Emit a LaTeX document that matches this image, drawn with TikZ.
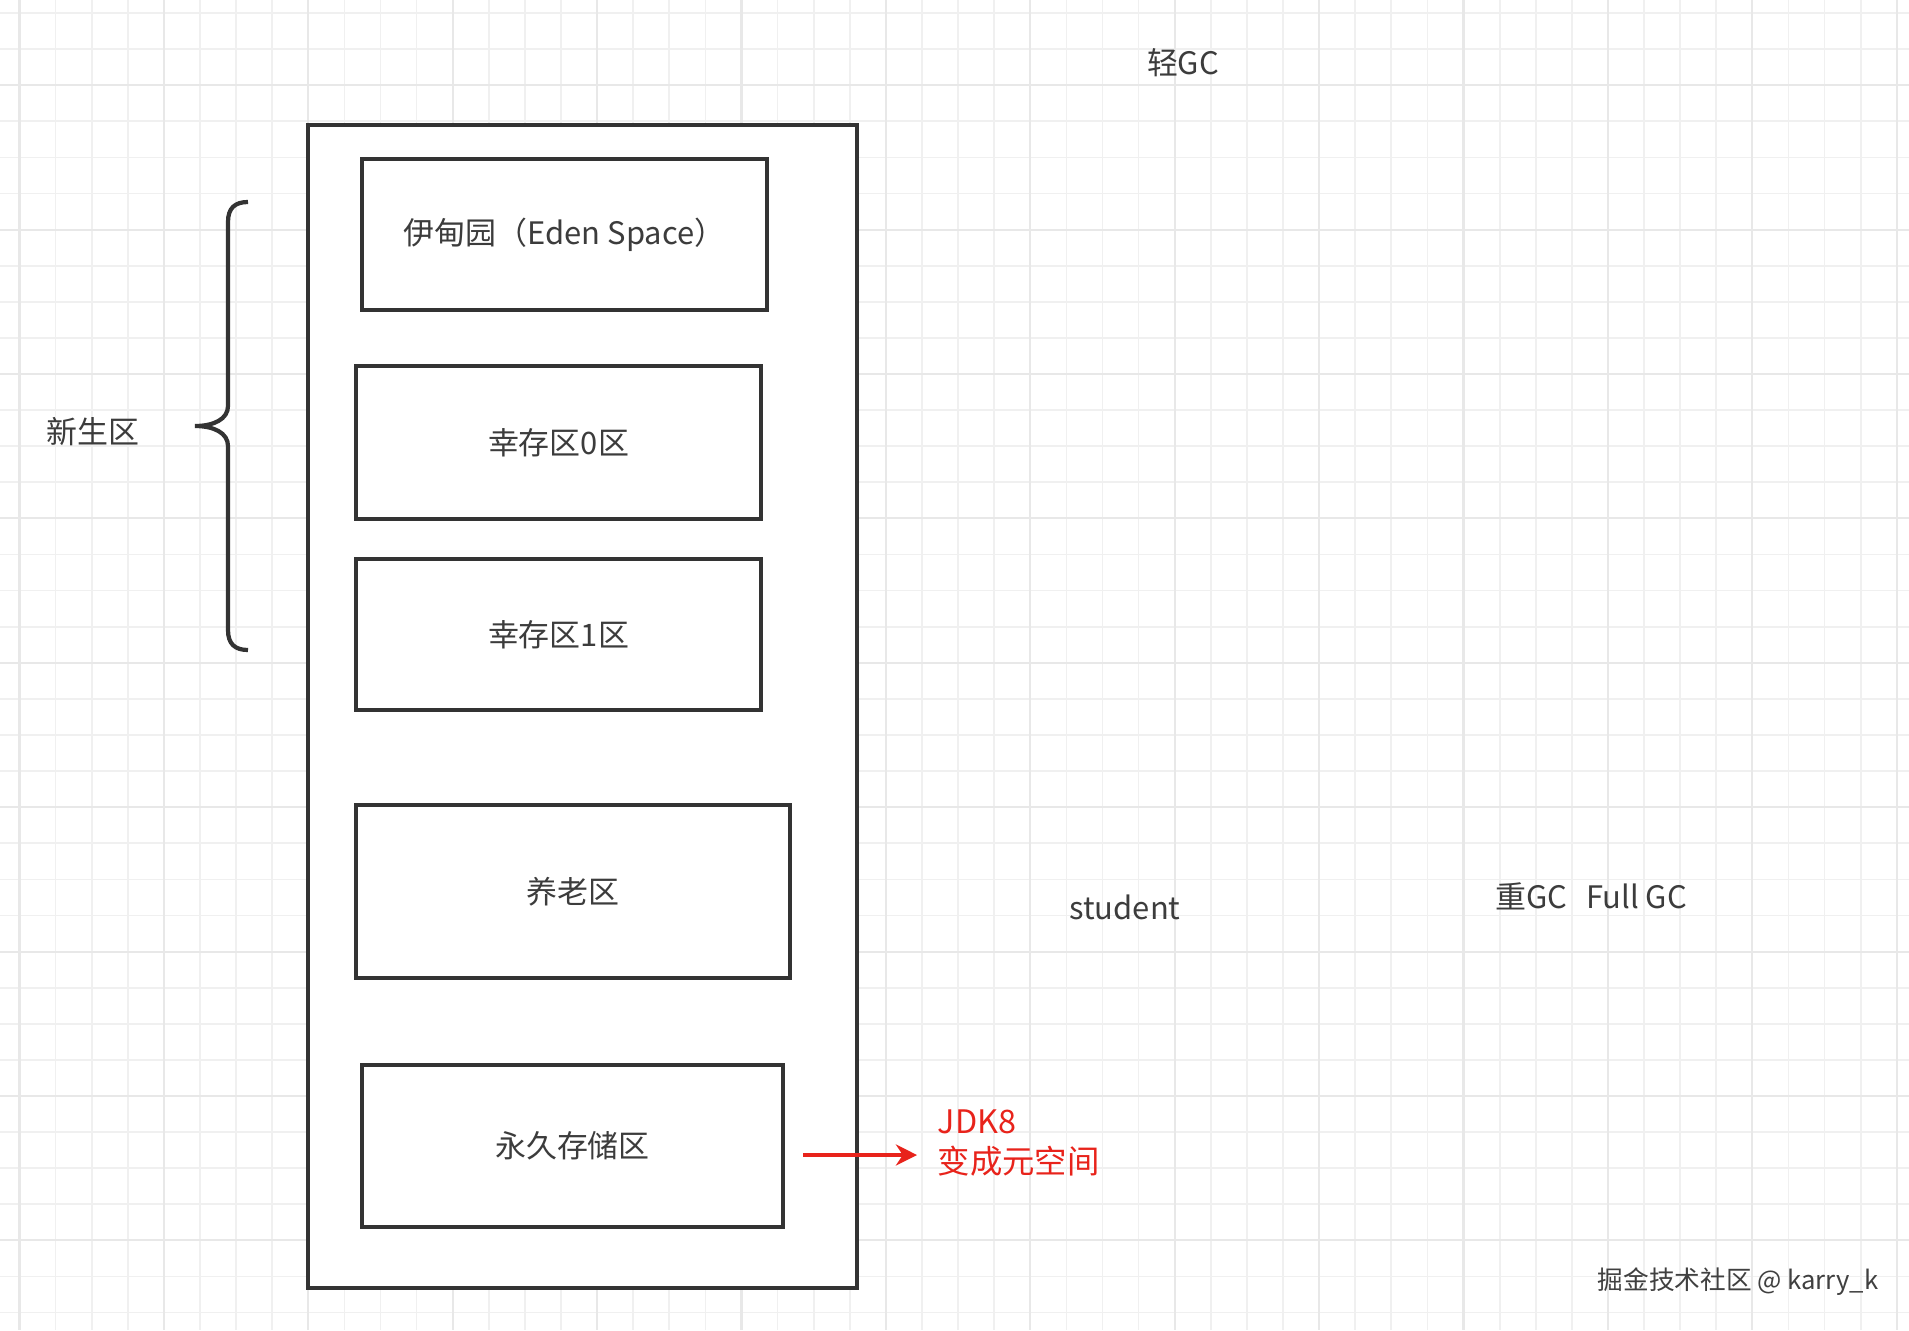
\documentclass[tikz,border=0pt]{standalone}
\usepackage{fontspec}
\setmainfont{Noto Sans CJK SC}
\usepackage{xcolor}
\usepackage{tikz}
\usetikzlibrary{positioning,arrows.meta}
\definecolor{inkgray}{HTML}{333333}
\definecolor{textgray}{HTML}{3C3C3C}
\definecolor{minorgrid}{HTML}{F0F0F0}
\definecolor{majorgrid}{HTML}{E8E8E8}
\definecolor{notered}{HTML}{E8231B}

\begin{document}
\begin{tikzpicture}[x=0.01cm,y=-0.01cm, every node/.style={font=\fontsize{8.8}{11}\selectfont,text=textgray}]
\tikzstyle{box}=[draw=inkgray,line width=1.2pt,fill=white,inner sep=0pt,align=center]
\tikzstyle{note}=[inner sep=0pt]
\useasboundingbox (0,0) rectangle (1909,1330);
\fill[white] (0,0) rectangle (1909,1330);
% grid paper
\foreach \i in {0,...,52} \draw[minorgrid,line width=0.5pt] ({19.5+36.1*\i},0) -- ({19.5+36.1*\i},1330);
\foreach \j in {0,...,36} \draw[minorgrid,line width=0.5pt] (0,{13+36.1*\j}) -- (1909,{13+36.1*\j});
\foreach \i in {0,4,...,52} \draw[majorgrid,line width=0.6pt] ({19.5+36.1*\i},0) -- ({19.5+36.1*\i},1330);
\foreach \j in {2,6,...,36} \draw[majorgrid,line width=0.6pt] (0,{13+36.1*\j}) -- (1909,{13+36.1*\j});
% heap
\node[box,minimum width=5.49cm,minimum height=11.63cm] (heap) at (582.5,706.5) {};
\node[box,minimum width=4.05cm,minimum height=1.51cm] (eden) at (564.5,234.5) {伊甸园（Eden Space）};
\node[box,minimum width=4.05cm,minimum height=1.53cm] (sur0) at (558.5,442.5) {幸存区0区};
\node[box,minimum width=4.05cm,minimum height=1.51cm] (sur1) at (558.5,634.5) {幸存区1区};
\node[box,minimum width=4.34cm,minimum height=1.73cm] (old) at (573,891.5) {养老区};
\node[box,minimum width=4.21cm,minimum height=1.62cm] (perm) at (572.5,1146) {永久存储区};
% young generation brace
\draw[inkgray,line width=1.2pt] (248,202) .. controls (235,202) and (228,208) .. (228,222) -- (228,406)
  .. controls (228,419) and (214,426) .. (195,426) .. controls (214,426) and (228,433) .. (228,446)
  -- (228,630) .. controls (228,644) and (235,650) .. (248,650);
\node[note] (young) at (93,432) {新生区};
% labels
\node[note] (minor) at (1183,63) {轻GC};
\node[note] (stu) at (1125,907) {student};
\node[note] (major) at (1591,896) {重GC\ \ \,Full GC};
\node[note,anchor=west,align=left,text=notered,font=\fontsize{9.2}{11.6}\selectfont] (meta) at (937,1143) {JDK8\\变成元空间};
\coordinate (metafrom) at (803,1155);
\draw[notered,line width=1pt,-{Stealth[length=6pt,width=6pt]},shorten >=0.2cm] (metafrom) -- (metafrom -| meta.west);
\node[note,font=\fontsize{7.3}{9}\selectfont,text=darkgray] (mark) at (1738,1282) {掘金技术社区 @ karry\_k};
\end{tikzpicture}
\end{document}
